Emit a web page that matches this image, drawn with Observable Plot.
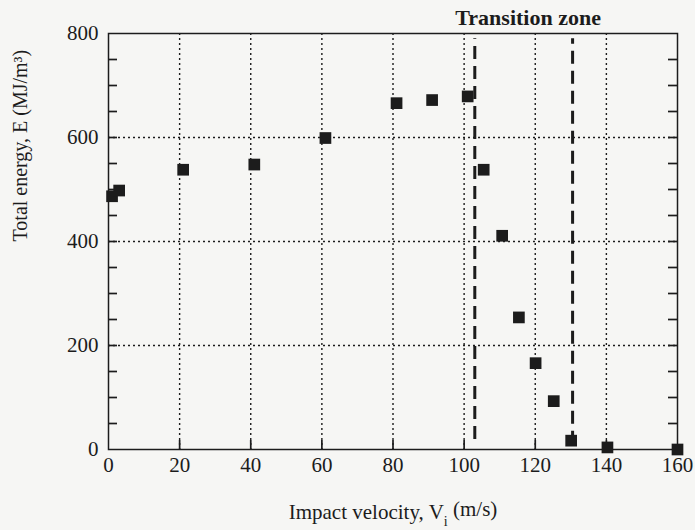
<!DOCTYPE html>
<html><head><meta charset="utf-8">
<script src="https://cdn.jsdelivr.net/npm/d3@7"></script>
<script src="https://cdn.jsdelivr.net/npm/@observablehq/plot@0.6"></script>
<style>
body{margin:0;background:#f6f6f4}
#chart svg, #chart svg text{font-family:"Liberation Serif","Times New Roman",serif;}
</style>
</head><body><div id="chart"></div>
<script>
// Data
const velocity = [1, 3, 21, 41, 61, 81, 91, 101, 105.5, 110.7, 115.4, 120.1, 125.2, 130.1, 140.3, 160];
const energy   = [487, 498, 538, 548, 599, 666, 672, 679, 538, 411, 254, 166, 93, 17, 4, 0];

const xTicks = [0, 20, 40, 60, 80, 100, 120, 140, 160];
const yTicks = [0, 200, 400, 600, 800];
const yMinorTicks = [50, 100, 150, 200, 250, 300, 350, 400, 450, 500, 550, 600, 650, 700, 750];
const xInnerTicks = [20, 40, 60, 80, 100, 120, 140];
const gridX = [20, 40, 60, 80, 100, 120, 140];
const gridY = [200, 400, 600];

const zoneX = [103, 130.5];
const zoneBottom = [19, 10];
const zoneTop = [790, 790];
const zoneLabel = ["Transition zone"];
const zoneLabelX = [118];

const xLabel = "Impact velocity, V";
const xLabelSub = "i";
const xLabelTail = " (m/s)";
const yLabel = "Total energy, E (MJ/m³)";

const points = velocity.map((v, i) => ({v, e: energy[i]}));
const zones = zoneX.map((x, i) => ({x, y1: zoneBottom[i], y2: zoneTop[i]}));

const W = 695, H = 530, mL = 108, mR = 18, mT = 33, mB = 81;
const innerW = W - mL - mR, innerH = H - mT - mB;
const tickLen = 9;
const ink = "#1c1c1c";
const serif = "Liberation Serif, Times New Roman, serif";

const chart = Plot.plot({
  width: W,
  height: H,
  marginLeft: mL,
  marginRight: mR,
  marginTop: mT,
  marginBottom: mB,
  style: {background: "#f6f6f4", color: ink, fontFamily: serif},
  x: {domain: [0, 160]},
  y: {domain: [0, 800]},
  marks: [
    Plot.gridX(gridX, {stroke: ink, strokeOpacity: 1, strokeWidth: 1.4, strokeDasharray: "2,3"}),
    Plot.gridY(gridY, {stroke: ink, strokeOpacity: 1, strokeWidth: 1.4, strokeDasharray: "2,3"}),
    Plot.ruleX(zones, {x: "x", y1: "y1", y2: "y2", stroke: ink, strokeWidth: 3, strokeDasharray: "13,7"}),
    Plot.frame({stroke: ink, strokeWidth: 1.5}),
    // inward ticks (bottom, left, right)
    Plot.ruleX(xInnerTicks, {x: d => d, insetTop: innerH - tickLen, stroke: ink, strokeWidth: 1.7}),
    Plot.ruleY(yMinorTicks, {y: d => d, insetRight: innerW - tickLen, stroke: ink, strokeWidth: 1.7}),
    Plot.ruleY(yMinorTicks, {y: d => d, insetLeft: innerW - tickLen, stroke: ink, strokeWidth: 1.7}),
    // tick labels
    Plot.axisX(xTicks, {anchor: "bottom", tickSize: 0, tickPadding: 8, fontSize: 21, label: null, fontFamily: serif, fill: ink}),
    Plot.axisY(yTicks, {anchor: "left", tickSize: 0, tickPadding: 10, fontSize: 21, label: null, fontFamily: serif, fill: ink}),
    Plot.dot(points, {x: "v", y: "e", symbol: "square", r: 6.6, fill: ink, stroke: null}),
    Plot.text(zoneLabel, {x: zoneLabelX, frameAnchor: "top", dy: -16, text: d => d, fontSize: 22, fontWeight: "bold", fill: ink, lineAnchor: "middle", fontFamily: serif}),
    Plot.text([yLabel], {frameAnchor: "left", dx: -88, rotate: -90, text: d => d, fontSize: 20, fill: ink, lineAnchor: "middle", fontFamily: serif}),
    Plot.text([xLabel], {frameAnchor: "bottom", dy: 63, text: d => d, fontSize: 21, fill: ink, lineAnchor: "middle", fontFamily: serif})
  ]
});
document.getElementById("chart").appendChild(chart);

// add the subscript to the x-axis label
d3.select(chart).selectAll("text").filter(function() { return this.textContent === xLabel; })
  .each(function() {
    const t = d3.select(this);
    t.append("tspan").attr("dy", "0.45em").attr("font-size", "14").text(xLabelSub);
    t.append("tspan").attr("dy", "-0.45em").text(xLabelTail);
  });
</script>
</body></html>
